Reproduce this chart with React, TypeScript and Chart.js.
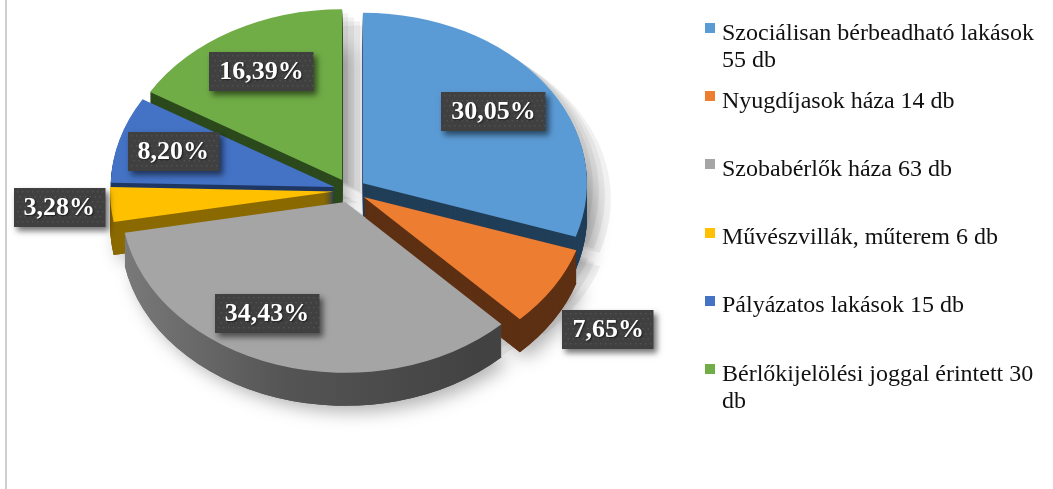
import React, { useEffect, useRef } from "react";
import { Chart, registerables } from "chart.js";

Chart.register(...registerables);

const categories = [
  "Szociálisan bérbeadható lakások 55 db",
  "Nyugdíjasok háza 14 db",
  "Szobabérlők háza 63 db",
  "Művészvillák, műterem 6 db",
  "Pályázatos lakások 15 db",
  "Bérlőkijelölési joggal érintett 30 db",
];
const counts = [55, 14, 63, 6, 15, 30];
const percentLabels = ["30,05%", "7,65%", "34,43%", "3,28%", "8,20%", "16,39%"];

const topColors = ["#5B9BD5", "#ED7D31", "#A5A5A5", "#FFC000", "#4472C4", "#70AD47"];
const sideColors = ["#213E58", "#5E3013", "GRAY", "#8A6A00", "#1F3763", "#2C4A1D"];

const FONT = "'Liberation Serif', 'Times New Roman', serif";

const pie3d = {
  id: "pie3d",
  beforeDatasetsDraw(chart: any, _args: any, opts: any) {
    const meta = chart.getDatasetMeta(0);
    const ctx: CanvasRenderingContext2D = chart.ctx;
    const arcs = meta.data as any[];
    if (!arcs.length) return;
    const { squash, depth, explode } = opts;
    const cx = arcs[0].x;
    const cy = arcs[0].y;
    const R = arcs[0].outerRadius;
    const grayGrad = ctx.createLinearGradient(cx - R, 0, cx + R * 0.6, 0);
    grayGrad.addColorStop(0, "#7a7a7a");
    grayGrad.addColorStop(0.45, "#555555");
    grayGrad.addColorStop(1, "#424242");
    const side = (i: number) => (sideColors[i] === "GRAY" ? grayGrad : sideColors[i]);

    const withT = (a: any, dx: number, dy: number, fn: () => void) => {
      const mid = (a.startAngle + a.endAngle) / 2;
      ctx.save();
      ctx.translate(dx, dy);
      ctx.translate(cx, cy);
      ctx.scale(1, squash);
      ctx.translate(-cx, -cy);
      ctx.translate(Math.cos(mid) * explode, Math.sin(mid) * explode);
      fn();
      ctx.restore();
    };
    const drawWith = (a: any, color: any) => {
      const saved = a.options;
      a.options = { ...saved, backgroundColor: color, borderWidth: 0, offset: 0 };
      a.draw(ctx);
      a.options = saved;
    };

    // cast shadow of the top faces (visible in the gaps), faded in layers
    for (let k = 1; k <= 4; k++) {
      arcs.forEach((a) => withT(a, 6 * k, 4 * k, () => drawWith(a, "rgba(0,0,0,0.055)")));
    }

    // soft shadow under the body
    ctx.save();
    ctx.shadowColor = "rgba(0,0,0,0.3)";
    ctx.shadowBlur = 18;
    ctx.shadowOffsetX = 7;
    ctx.shadowOffsetY = 6;
    arcs.forEach((a, i) => withT(a, 0, depth, () => drawWith(a, side(i))));
    ctx.restore();

    for (let d = depth; d >= 1; d--) {
      arcs.forEach((a, i) => withT(a, 0, d, () => drawWith(a, side(i))));
    }
    arcs.forEach((a, i) => withT(a, 0, 0, () => drawWith(a, topColors[i])));
    return false;
  },
  afterDraw(chart: any, _args: any, opts: any) {
    const meta = chart.getDatasetMeta(0);
    const ctx: CanvasRenderingContext2D = chart.ctx;
    const arcs = meta.data as any[];
    if (!arcs.length) return;
    const { squash, explode, labelRadius, labelShift } = opts;
    const cx = arcs[0].x;
    const cy = arcs[0].y;
    arcs.forEach((a, i) => {
      const mid = (a.startAngle + a.endAngle) / 2;
      const ang = mid + (labelShift[i] * Math.PI) / 180;
      const r = a.outerRadius * labelRadius[i] + explode;
      const px = cx + Math.cos(ang) * r;
      const py = cy + Math.sin(ang) * r * squash;
      const text = percentLabels[i];
      ctx.save();
      ctx.font = `bold 26px ${FONT}`;
      const w = ctx.measureText(text).width + 20;
      const h = 39;
      const x0 = Math.round(px - w / 2);
      const y0 = Math.round(py - h / 2);
      ctx.shadowColor = "rgba(0,0,0,0.55)";
      ctx.shadowBlur = 6;
      ctx.shadowOffsetX = 3;
      ctx.shadowOffsetY = 4;
      ctx.fillStyle = "#404040";
      ctx.fillRect(x0, y0, w, h);
      ctx.shadowColor = "transparent";
      ctx.fillStyle = "rgba(255,255,255,0.09)";
      for (let yy = y0 + 3; yy < y0 + h - 1; yy += 5) {
        for (let xx = x0 + 3 + ((yy - y0) % 10 === 3 ? 0 : 2.5); xx < x0 + w - 1; xx += 5) {
          ctx.fillRect(xx, yy, 1.5, 1.5);
        }
      }
      ctx.shadowColor = "rgba(0,0,0,0.6)";
      ctx.shadowBlur = 2;
      ctx.shadowOffsetX = 1;
      ctx.shadowOffsetY = 1;
      ctx.fillStyle = "#ffffff";
      ctx.textAlign = "center";
      ctx.textBaseline = "middle";
      ctx.fillText(text, px, y0 + h / 2 + 1);
      ctx.restore();
    });
  },
};

export default function App() {
  const ref = useRef<HTMLCanvasElement | null>(null);
  useEffect(() => {
    if (!ref.current) return;
    const chart = new Chart(ref.current, {
      type: "pie",
      data: {
        labels: categories,
        datasets: [
          {
            data: counts,
            backgroundColor: topColors,
            borderWidth: 0,
            clip: false as any,
          },
        ],
      },
      options: {
        responsive: false,
        animation: false,
        devicePixelRatio: 1,
        radius: 224,
        layout: { padding: { left: 0, top: 0, right: 353, bottom: 108 } },
        plugins: {
          legend: { display: false },
          tooltip: { enabled: false },
          pie3d: {
            squash: 0.762,
            depth: 33,
            explode: 16,
            labelRadius: [0.72, 1.34, 0.74, 1.23, 0.75, 0.73],
            labelShift: [0, 3.3, 9.5, 0, 0, 0],
          },
        } as any,
      },
      plugins: [pie3d as any],
    });
    return () => chart.destroy();
  }, []);

  return (
    <div style={{ position: "fixed", left: 0, top: 0, width: 1053, height: 489, background: "#fff", overflow: "hidden" }}>
      <div style={{ position: "absolute", left: 5, top: 0, width: 2, height: 489, background: "#cfcfcf" }} />
      <canvas ref={ref} width={1053} height={489} style={{ position: "absolute", left: 0, top: 0, width: 1053, height: 489 }} />
      {categories.map((c, i) => (
        <div key={c} style={{ position: "absolute", left: 705, top: 18.5 + i * 68.2, width: 340 }}>
          <div style={{ position: "absolute", left: 0, top: 4.5, width: 10, height: 10, background: topColors[i] }} />
          <div
            style={{
              position: "absolute",
              left: 17,
              top: 0,
              width: 326,
              fontFamily: FONT,
              fontSize: 24,
              lineHeight: "27px",
              color: "#111",
            }}
          >
            {c}
          </div>
        </div>
      ))}
    </div>
  );
}
